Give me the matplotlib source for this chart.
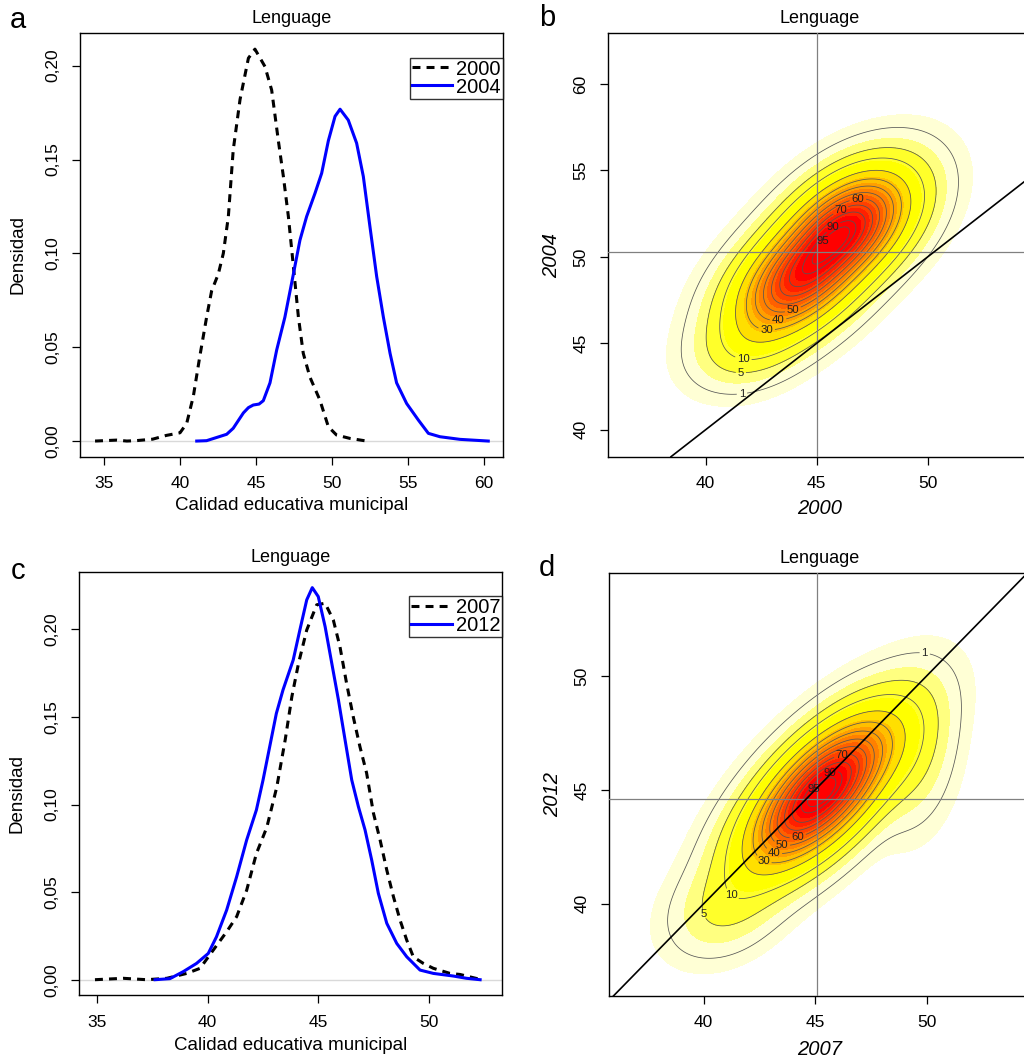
import numpy as np
import matplotlib
matplotlib.use("Agg")
import matplotlib.pyplot as plt
from matplotlib.lines import Line2D

plt.rcParams['font.family'] = ['Liberation Sans', 'DejaVu Sans']
plt.rcParams['font.size'] = 12.5

# ---------------- data: panel a (density curves) ----------------
a2000_x = [34.41, 35.83, 36.5, 37.1, 38.2, 39.1, 40.0, 40.44, 40.88, 41.3, 41.75, 42.08, 42.52,
           42.85, 43.18, 43.5, 43.95, 44.5, 44.93, 45.59, 46.03, 46.47, 46.8, 47.13, 47.46,
           47.79, 48.11, 48.55, 49.2, 49.76, 50.3, 51.18, 52.28]
a2000_y = [0.0, 0.0005, 0.0, 0.0002, 0.001, 0.003, 0.0044, 0.0094, 0.024, 0.045, 0.066, 0.080, 0.089,
           0.100, 0.1196, 0.155, 0.182, 0.204, 0.2088, 0.1995, 0.187, 0.160, 0.141, 0.1196, 0.093,
           0.066, 0.0467, 0.034, 0.0219, 0.0076, 0.0032, 0.0014, 0.0]
a2004_x = [41.1, 41.75, 43.07, 43.5, 44.17, 44.5, 44.82, 45.2, 45.48, 45.92, 46.36, 46.9, 47.46, 47.89,
           48.33, 48.88, 49.32, 49.76, 50.2, 50.53, 51.07, 51.62, 52.06, 52.5, 52.94, 53.38, 53.82,
           54.25, 54.91, 55.68, 56.34, 57.1, 58.42, 60.28]
a2004_y = [0.0, 0.0002, 0.0036, 0.0068, 0.0150, 0.0178, 0.0192, 0.0197, 0.0215, 0.031, 0.0485, 0.066,
           0.089, 0.107, 0.1196, 0.132, 0.1427, 0.160, 0.173, 0.1768, 0.171, 0.1587, 0.141, 0.114,
           0.0876, 0.066, 0.0467, 0.031, 0.020, 0.0112, 0.0041, 0.0023, 0.0009, 0.0]

# ---------------- data: panel c (density curves) ----------------
c2007_x = [34.92, 36.2, 37.25, 38.16, 39.06, 39.66, 40.26, 40.86, 41.31, 41.76, 42.2, 42.67, 43.12,
           43.5, 43.8, 44.1, 44.47, 44.92, 45.3, 45.67, 45.97, 46.27, 46.57, 46.87, 47.17, 47.48,
           47.78, 48.08, 48.38, 48.68, 48.98, 49.28, 49.73, 50.18, 50.93, 51.38, 52.29]
c2007_y = [0.0, 0.0008, 0.0, 0.0008, 0.0036, 0.0065, 0.017, 0.0274, 0.036, 0.051, 0.072, 0.087, 0.110,
           0.137, 0.1616, 0.1806, 0.1996, 0.214, 0.2149, 0.2053, 0.190, 0.169, 0.150, 0.133, 0.118,
           0.095, 0.0797, 0.0626, 0.0474, 0.034, 0.0226, 0.013, 0.0093, 0.0065, 0.0036, 0.003, 0.0002]
c2012_x = [37.63, 38.3, 38.9, 39.5, 40.03, 40.4, 40.86, 41.31, 41.76, 42.2, 42.5, 42.8, 43.1, 43.4,
           43.86, 44.16, 44.47, 44.72, 44.99, 45.3, 45.6, 45.9, 46.2, 46.5, 46.8, 47.1, 47.4, 47.7,
           48.08, 48.53, 48.98, 49.58, 50.18, 51.08, 51.68, 52.29]
c2012_y = [0.0, 0.0006, 0.0046, 0.0093, 0.015, 0.0245, 0.0398, 0.0588, 0.0797, 0.0969, 0.114, 0.133,
           0.152, 0.1654, 0.1825, 0.1996, 0.2168, 0.2238, 0.2187, 0.2015, 0.1806, 0.1597, 0.1368,
           0.114, 0.0988, 0.0855, 0.0683, 0.0493, 0.0322, 0.0207, 0.0131, 0.0055, 0.0036, 0.0021,
           0.0008, 0.0]

# ---------------- data: panel b / d (bivariate density, mixture parameters) ----------------
b_mean_x = [44.07, 46.43, 42.0]
b_mean_y = [48.54, 51.76, 45.0]
b_sd_x = [1.67, 1.67, 1.4]
b_sd_y = [1.93, 1.93, 1.4]
b_rho = [0.45, 0.45, 0.3]
b_weight = [0.44, 0.53, 0.03]
b_mean_lines = (45.0, 50.3)

d_mean_x = [45.3, 41.0, 49.5]
d_mean_y = [44.9, 39.8, 46.5]
d_sd_x = [1.98, 1.4, 1.0]
d_sd_y = [1.98, 1.2, 1.8]
d_rho = [0.68, 0.3, 0.2]
d_weight = [0.95, 0.025, 0.025]
d_mean_lines = (45.1, 44.6)

contour_pct = [1, 5, 10, 20, 30, 40, 50, 60, 70, 80, 90, 95]
fill_frac = [0.003, 0.025, 0.05, 0.12, 0.2, 0.28, 0.36, 0.45, 0.55, 0.65, 0.75, 0.85, 1.01]
heat_colors = ["#FFFFD5", "#FFFF80", "#FFFF2A", "#FFFF00", "#FFDF00", "#FFBF00",
               "#FF9F00", "#FF8000", "#FF6000", "#FF4000", "#FF2000", "#FF0000"]

b_label_pos = {1: (41.6, 42.5), 5: (41.6, 44.2), 10: (41.8, 45.0), 30: (42.8, 46.8),
               40: (43.2, 47.35), 50: (43.7, 47.9), 60: (46.9, 52.75), 70: (46.35, 52.0),
               90: (45.9, 51.45), 95: (45.3, 50.9)}
d_label_pos = {1: (49.9, 50.85), 5: (40.55, 39.75), 10: (41.3, 40.45), 30: (42.6, 41.7),
               40: (43.1, 42.1), 50: (43.5, 42.55), 60: (44.1, 43.5), 70: (46.3, 46.1),
               90: (45.75, 45.5), 95: (45.2, 44.85)}


def mixture(X, Y, mx, my, sx, sy, rho, w):
    Z = np.zeros_like(X)
    for i in range(len(w)):
        dx = (X - mx[i]) / sx[i]
        dy = (Y - my[i]) / sy[i]
        r = rho[i]
        q = (dx ** 2 + dy ** 2 - 2 * r * dx * dy) / (1 - r ** 2)
        Z += w[i] * np.exp(-0.5 * q) / (2 * np.pi * sx[i] * sy[i] * np.sqrt(1 - r ** 2))
    return Z


fig = plt.figure(figsize=(10.24, 10.59), dpi=100)

W, H = 1024.0, 1059.0


def make_axes(left, top, right, bottom):
    return fig.add_axes([left / W, 1 - bottom / H, (right - left) / W, (bottom - top) / H])


def style_axes(ax):
    for s in ax.spines.values():
        s.set_linewidth(1.0)
        s.set_color('black')
    ax.tick_params(direction='out', length=6, width=0.9, pad=8, labelsize=12.5)
    for lab in ax.get_yticklabels():
        lab.set_rotation(90)
        lab.set_va('center')


def density_panel(ax, xs1, ys1, xs2, ys2, lab1, lab2, xlim, ylim, xticks, xlab_y):
    ax.axhline(0, color='#D9D9D9', lw=1.0, zorder=1)
    ax.plot(xs1, ys1, color='black', lw=2.2, dashes=(2.6, 2.0), zorder=3)
    ax.plot(xs2, ys2, color='#0000FF', lw=2.2, zorder=3)
    ax.set_xlim(*xlim)
    ax.set_ylim(*ylim)
    ax.set_xticks(xticks)
    yt = [0.0, 0.05, 0.10, 0.15, 0.20]
    ax.set_yticks(yt)
    ax.set_yticklabels([("%.2f" % v).replace('.', ',') for v in yt])
    ax.set_title('Lenguage', fontsize=13, pad=7)
    ax.set_xlabel('Calidad educativa municipal', fontsize=13.5)
    ax.set_ylabel('Densidad', fontsize=13.5)
    ax.xaxis.set_label_coords(0.5, xlab_y)
    ax.yaxis.set_label_coords(-0.127, 0.477)
    handles = [Line2D([], [], color='black', lw=2.2, dashes=(2.6, 2.0)),
               Line2D([], [], color='#0000FF', lw=2.2)]
    leg = ax.legend(handles, [lab1, lab2], loc='upper right', bbox_to_anchor=(1.0, 1 - 24.5 / 424),
                    fontsize=14.5, frameon=True, fancybox=False, borderpad=0.1, labelspacing=-0.05,
                    handlelength=2.0, handletextpad=0.2, borderaxespad=0.0)
    leg.get_frame().set_edgecolor('black')
    leg.get_frame().set_linewidth(1.0)
    style_axes(ax)


def bivar_panel(ax, mx, my, sx, sy, rho, w, mean_lines, xlim, ylim, xticks, yticks,
                xlabel, ylabel, label_pos, xlab_y):
    gx = np.linspace(xlim[0], xlim[1], 400)
    gy = np.linspace(ylim[0], ylim[1], 400)
    X, Y = np.meshgrid(gx, gy)
    Z = mixture(X, Y, mx, my, sx, sy, rho, w)
    zmax = Z.max()
    ax.contourf(X, Y, Z, levels=[f * zmax for f in fill_frac], colors=heat_colors, zorder=1)
    for p in contour_pct:
        lev = p / 100.0 * zmax
        cs = ax.contour(X, Y, Z, levels=[lev], colors='#555555', linewidths=0.55, zorder=2)
        if p in label_pos:
            texts = ax.clabel(cs, fmt={cs.levels[0]: str(p)}, manual=[label_pos[p]], inline=True,
                              fontsize=8.2, colors='#222222', inline_spacing=2)
            for t in texts:
                t.set_rotation(0)
    ax.axvline(mean_lines[0], color='#808080', lw=0.9, zorder=3)
    ax.axhline(mean_lines[1], color='#808080', lw=0.9, zorder=3)
    ax.axline((40, 40), slope=1, color='black', lw=1.2, zorder=4)
    ax.set_xlim(*xlim)
    ax.set_ylim(*ylim)
    ax.set_xticks(xticks)
    ax.set_yticks(yticks)
    ax.set_title('Lenguage', fontsize=13, pad=7)
    ax.set_xlabel(xlabel, fontsize=14.5, style='italic')
    ax.set_ylabel(ylabel, fontsize=14.5, style='italic')
    ax.xaxis.set_label_coords(0.5, xlab_y)
    ax.yaxis.set_label_coords(-0.110, 0.475)
    style_axes(ax)


ax_a = make_axes(80, 33, 503, 457)
density_panel(ax_a, a2000_x, a2000_y, a2004_x, a2004_y, '2000', '2004',
              (33.42, 61.25), (-0.0085, 0.2174), [35, 40, 45, 50, 55, 60], -0.094)

ax_b = make_axes(607.7, 33, 1031.4, 456.7)
bivar_panel(ax_b, b_mean_x, b_mean_y, b_sd_x, b_sd_y, b_rho, b_weight, b_mean_lines,
            (35.59, 54.67), (38.44, 62.95), [40, 45, 50], [40, 45, 50, 55, 60],
            '2000', '2004', b_label_pos, -0.100)

ax_c = make_axes(79, 571.7, 502.3, 995.3)
density_panel(ax_c, c2007_x, c2007_y, c2012_x, c2012_y, '2007', '2012',
              (34.2, 53.29), (-0.0089, 0.2329), [35, 40, 45, 50], -0.098)

ax_d = make_axes(608.7, 572.7, 1031.5, 996)
bivar_panel(ax_d, d_mean_x, d_mean_y, d_sd_x, d_sd_y, d_rho, d_weight, d_mean_lines,
            (35.74, 54.71), (35.95, 54.54), [40, 45, 50], [40, 45, 50],
            '2007', '2012', d_label_pos, -0.104)

for letter, (px, py) in {'a': (18, 20), 'b': (547, 18), 'c': (18, 571), 'd': (547, 568)}.items():
    fig.text(px / W, 1 - py / H, letter, fontsize=21, ha='center', va='center')

fig.savefig('out.png', dpi=100)
